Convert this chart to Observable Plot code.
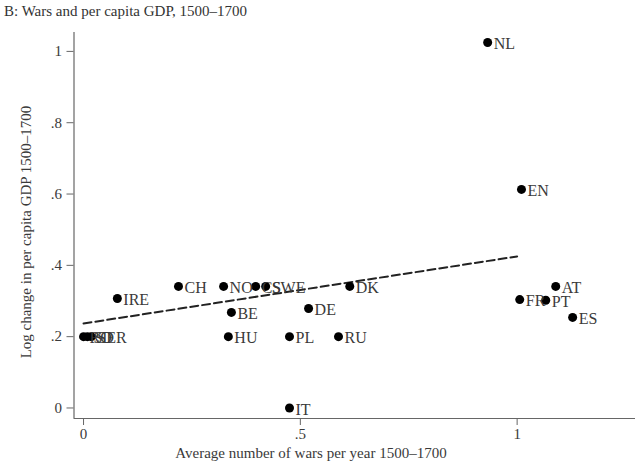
<!DOCTYPE html>
<html>
<head>
<meta charset="utf-8">
<script src="https://cdn.jsdelivr.net/npm/d3@7"></script>
<script src="https://cdn.jsdelivr.net/npm/@observablehq/plot@0.6"></script>
<style>
  html, body { margin: 0; padding: 0; background: #fff; }
  #title { font-family: "Liberation Serif", "DejaVu Serif", serif; font-size: 15px; color: #333; height: 22px; line-height: 22px; padding-left: 4px; white-space: nowrap; }
  svg { display: block; }
</style>
</head>
<body>
<div id="title">B: Wars and per capita GDP, 1500–1700</div>
<div id="chart"></div>
<script>
const countries = ["NL","EN","AT","FR","PT","ES","DK","DE","RU","PL","HU","BE","NO","CS","SWE","CH","IRE","IT","RO","SD","SER"];
const wars      = [0.932,1.010,1.089,1.006,1.066,1.128,0.614,0.519,0.588,0.475,0.334,0.341,0.323,0.397,0.420,0.219,0.078,0.475,0.000,0.009,0.018];
const gdpChange = [1.025,0.613,0.341,0.304,0.302,0.254,0.341,0.279,0.200,0.200,0.200,0.268,0.341,0.341,0.341,0.341,0.307,0.000,0.200,0.200,0.200];
const fitX = [0, 1.0];
const fitY = [0.237, 0.425];
const xTicks = [0, 0.5, 1];
const yTicks = [0, 0.2, 0.4, 0.6, 0.8, 1];
const xTickLabels = ["0", ".5", "1"];
const yTickLabels = ["0", ".2", ".4", ".6", ".8", "1"];

const points = countries.map((c, i) => ({c, x: wars[i], y: gdpChange[i]}));
const fit = fitX.map((x, i) => ({x, y: fitY[i]}));

const xDomain = [-0.022, 1.273];
const yDomain = [-0.0295, 1.053];
const font = "Liberation Serif, DejaVu Serif, serif";
const ink = "#3a3a3a";

const chart = Plot.plot({
  width: 640,
  height: 449,
  marginLeft: 73.5,
  marginRight: 5,
  marginTop: 10,
  marginBottom: 53,
  style: {fontFamily: font, fontSize: "14px", color: ink, background: "#fff"},
  x: {domain: xDomain},
  y: {domain: yDomain},
  marks: [
    Plot.ruleX([xDomain[0]], {stroke: "#666", strokeWidth: 1.2}),
    Plot.ruleY([yDomain[0]], {stroke: "#666", strokeWidth: 1.2}),
    Plot.axisX({ticks: xTicks, tickFormat: (d) => xTickLabels[xTicks.indexOf(d)], tickSize: 7, tickPadding: 3, stroke: "#666", fill: ink, fontSize: 15, label: null}),
    Plot.axisY({ticks: yTicks, tickFormat: (d) => yTickLabels[yTicks.indexOf(d)], tickSize: 7, tickPadding: 5, stroke: "#666", fill: ink, fontSize: 15, label: null}),
    Plot.line(fit, {x: "x", y: "y", stroke: "#222", strokeWidth: 2, strokeDasharray: "8,4"}),
    Plot.dot(points, {x: "x", y: "y", r: 4.5, fill: "#000", stroke: "none"}),
    Plot.text(points, {x: "x", y: "y", text: "c", dx: 6, dy: 1.5, textAnchor: "start", fill: ink, fontSize: 16, fontFamily: font})
  ]
});

const svg = d3.select(chart);
svg.append("text")
  .attr("x", 311).attr("y", 436)
  .attr("text-anchor", "middle")
  .attr("font-family", font).attr("font-size", 15).attr("fill", ink)
  .text("Average number of wars per year 1500–1700");
svg.append("text")
  .attr("transform", "translate(31,210) rotate(-90)")
  .attr("text-anchor", "middle")
  .attr("font-family", font).attr("font-size", 15).attr("fill", ink)
  .text("Log change in per capita GDP 1500–1700");

document.getElementById("chart").appendChild(chart);
</script>
</body>
</html>
